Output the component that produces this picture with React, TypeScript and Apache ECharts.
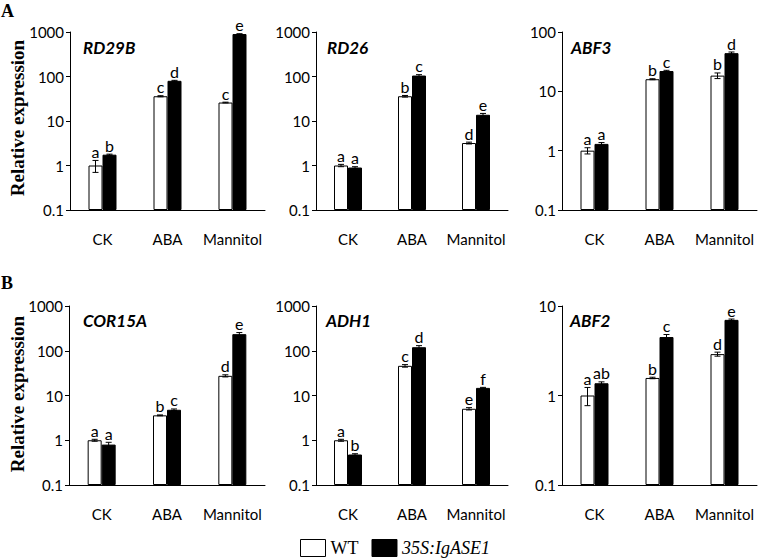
import React, { useEffect, useRef } from 'react';
import * as echarts from 'echarts';

const categories = ['CK', 'ABA', 'Mannitol'];
const genes = ['RD29B', 'RD26', 'ABF3', 'COR15A', 'ADH1', 'ABF2'];
const yMaxes = [1000, 1000, 100, 1000, 1000, 10];
const yMin = 0.1;

const wtMean = [
  [1.0, 36, 26],
  [1.0, 36, 3.2],
  [1.0, 16, 18.4],
  [1.0, 3.6, 27.5],
  [1.0, 46, 5.05],
  [1.0, 1.57, 2.9],
];
const wtErr = [
  [0.3, 1, 0.5],
  [0.06, 1.5, 0.15],
  [0.12, 0.3, 2],
  [0.05, 0.08, 1.5],
  [0.05, 3, 0.3],
  [0.23, 0.03, 0.15],
];
const oeMean = [
  [1.75, 80, 900],
  [0.9, 105, 13.8],
  [1.3, 22, 44],
  [0.8, 4.8, 235],
  [0.48, 120, 14.8],
  [1.37, 4.5, 7.0],
];
const oeErr = [
  [0.05, 2, 15],
  [0.04, 5, 1],
  [0.07, 0.6, 2],
  [0.1, 0.2, 20],
  [0.02, 10, 0.4],
  [0.05, 0.3, 0.15],
];
const wtLetters = [
  ['a', 'c', 'c'],
  ['a', 'b', 'd'],
  ['a', 'b', 'b'],
  ['a', 'b', 'd'],
  ['a', 'c', 'e'],
  ['a', 'b', 'd'],
];
const oeLetters = [
  ['b', 'd', 'e'],
  ['a', 'c', 'e'],
  ['a', 'c', 'd'],
  ['a', 'c', 'e'],
  ['b', 'd', 'f'],
  ['ab', 'c', 'e'],
];
const seriesNames = ['WT', '35S:IgASE1'];

// layout
const grids = [
  { left: 70, top: 32, width: 195, height: 178 },
  { left: 316, top: 32, width: 192, height: 178 },
  { left: 562, top: 32, width: 195, height: 178 },
  { left: 69, top: 306, width: 196, height: 179 },
  { left: 316, top: 306, width: 192, height: 179 },
  { left: 562, top: 306, width: 195, height: 179 },
];
const titlePos = [
  [83, 47], [327, 47], [571, 47],
  [83, 320], [326, 320], [570, 320],
];
const BAR_W = 14;
const SANS = 'Lato, "Open Sans", sans-serif';
const SERIF = '"Liberation Serif", "Times New Roman", serif';

function fmt(v: number) {
  return String(+Number(v).toPrecision(3));
}

export default function App() {
  const ref = useRef<HTMLDivElement>(null);
  useEffect(() => {
    document.body.style.margin = '0';
    const chart = echarts.init(ref.current!, null, { renderer: 'svg' });
    const xAxis: any[] = [];
    const yAxis: any[] = [];
    const series: any[] = [];
    grids.forEach((g, i) => {
      xAxis.push({
        type: 'category',
        gridIndex: i,
        data: categories,
        axisTick: { show: false },
        axisLine: { lineStyle: { color: '#000', width: 1 } },
        axisLabel: { color: '#000', fontFamily: SANS, fontSize: 15, margin: 21, interval: 0 },
      });
      yAxis.push({
        type: 'log',
        logBase: 10,
        gridIndex: i,
        min: yMin,
        max: yMaxes[i],
        startValue: yMin,
        splitLine: { show: false },
        axisLine: { show: true, lineStyle: { color: '#000', width: 1 } },
        axisTick: { show: true, length: 4, lineStyle: { color: '#000' } },
        axisLabel: { color: '#000', fontFamily: SANS, fontSize: 15, margin: 6, formatter: (v: number) => fmt(v) },
      });
      const means = [wtMean[i], oeMean[i]];
      const errs = [wtErr[i], oeErr[i]];
      const letters = [wtLetters[i], oeLetters[i]];
      [0, 1].forEach((k) => {
        series.push({
          type: 'bar',
          name: seriesNames[k],
          xAxisIndex: i,
          yAxisIndex: i,
          barWidth: BAR_W,
          barGap: '0%',
          data: means[k],
          itemStyle: k === 0
            ? { color: '#fff', borderColor: '#000', borderWidth: 1 }
            : { color: '#000', borderColor: '#000', borderWidth: 1 },
          z: 2,
        });
      });
      [0, 1].forEach((k) => {
        const sign = k === 0 ? -1 : 1;
        series.push({
          type: 'custom',
          xAxisIndex: i,
          yAxisIndex: i,
          z: 5,
          silent: true,
          data: categories.map((_, j) => [j, means[k][j], errs[k][j]]),
          renderItem: (params: any, api: any) => {
            const j = params.dataIndex;
            const cat = api.value(0);
            const m = api.value(1);
            const e = api.value(2);
            const c = api.coord([cat, m]);
            const x = c[0] + sign * BAR_W / 2;
            const top = api.coord([cat, m + e])[1];
            const bot = api.coord([cat, Math.max(m - e, yMin)])[1];
            const st = { stroke: '#000', lineWidth: 1 };
            return {
              type: 'group',
              children: [
                { type: 'line', shape: { x1: x, y1: top, x2: x, y2: bot }, style: st },
                { type: 'line', shape: { x1: x - 3, y1: top, x2: x + 3, y2: top }, style: st },
                { type: 'line', shape: { x1: x - 3, y1: bot, x2: x + 3, y2: bot }, style: st },
                {
                  type: 'text',
                  x: x,
                  y: top - 1,
                  style: {
                    text: letters[k][j],
                    font: `16px ${SANS}`,
                    fill: '#000',
                    align: 'center',
                    verticalAlign: 'bottom',
                    textAlign: 'center',
                    textVerticalAlign: 'bottom',
                  },
                },
              ],
            };
          },
        });
      });
    });

    const graphic: any[] = [
      { type: 'text', left: 1, top: 2, style: { text: 'A', font: `bold 18px ${SERIF}`, fill: '#000' } },
      { type: 'text', left: 1, top: 274, style: { text: 'B', font: `bold 18px ${SERIF}`, fill: '#000' } },
    ];
    [118, 394].forEach((cy) => {
      graphic.push({
        type: 'text',
        x: 17,
        y: cy,
        rotation: Math.PI / 2,
        style: {
          text: 'Relative expression',
          font: `bold 19px ${SERIF}`,
          fill: '#000',
          align: 'center',
          verticalAlign: 'middle',
          textAlign: 'center',
          textVerticalAlign: 'middle',
        },
      });
    });
    genes.forEach((gname, i) => {
      graphic.push({
        type: 'text',
        x: titlePos[i][0],
        y: titlePos[i][1],
        style: {
          text: gname,
          font: `italic bold 17px ${SANS}`,
          fill: '#000',
          verticalAlign: 'middle',
          textVerticalAlign: 'middle',
        },
      });
    });

    chart.setOption({
      animation: false,
      backgroundColor: '#fff',
      grid: grids.map((g) => ({ ...g, containLabel: false })),
      xAxis,
      yAxis,
      series,
      graphic,
      legend: {
        left: 300,
        top: 539,
        padding: 0,
        itemWidth: 25,
        itemHeight: 17,
        itemGap: 13,
        icon: 'rect',
        selectedMode: false,
        textStyle: { fontFamily: SERIF, fontSize: 18, color: '#000', padding: [2, 0, 0, 0] },
        data: [
          { name: 'WT', itemStyle: { color: '#fff', borderColor: '#000', borderWidth: 1 } },
          { name: '35S:IgASE1', itemStyle: { color: '#000', borderColor: '#000', borderWidth: 1 }, textStyle: { fontStyle: 'italic' } },
        ],
      },
    });
    return () => chart.dispose();
  }, []);
  return <div ref={ref} style={{ width: 777, height: 560 }} />;
}
